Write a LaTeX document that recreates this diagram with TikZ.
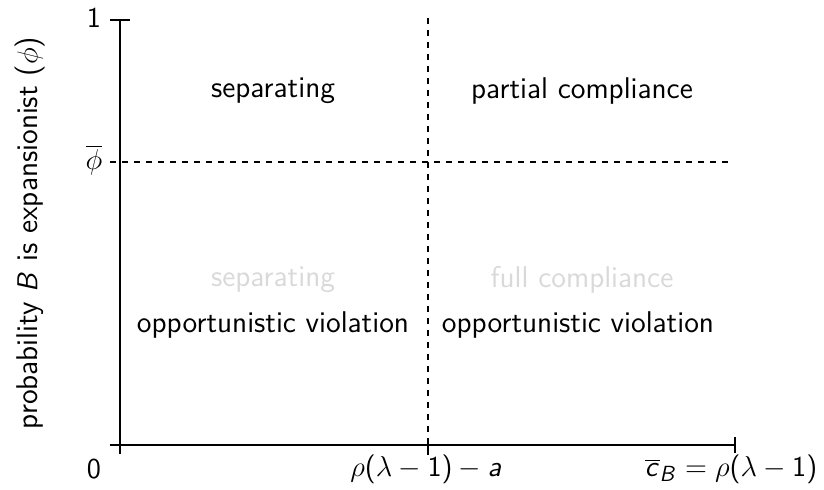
\documentclass[tikz,border=0pt]{standalone}
\renewcommand{\familydefault}{\sfdefault}
% sans serif letters and digits in math
\DeclareSymbolFont{sfup}{OT1}{cmss}{m}{n}
\DeclareSymbolFont{sfit}{OT1}{cmss}{m}{sl}
\DeclareMathSymbol{0}{\mathalpha}{sfup}{`0}
\DeclareMathSymbol{1}{\mathalpha}{sfup}{`1}
\DeclareMathSymbol{(}{\mathopen}{sfup}{`(}
\DeclareMathSymbol{)}{\mathclose}{sfup}{`)}
\DeclareMathSymbol{=}{\mathrel}{sfup}{`=}
\DeclareMathSymbol{a}{\mathalpha}{sfit}{`a}
\DeclareMathSymbol{c}{\mathalpha}{sfit}{`c}
\DeclareMathSymbol{B}{\mathalpha}{sfit}{`B}
\begin{document}
\begin{tikzpicture}[x=0.5pt,y=-0.5pt,
        every node/.style={font=\fontsize{15}{18}\selectfont\sffamily},
        faded/.style={text=black!15}]
    \useasboundingbox (0,0) rectangle (824,489);
    % axes
    \draw[-, line width=1.4pt] (120,20) -- (120,454);
    \draw[-, line width=1.4pt] (110,445) -- (735,445);
    \draw[-, line width=1.4pt] (110,20) -- (130,20);
    \draw[-, line width=1.4pt] (428,445) -- (428,455);
    \draw[-, line width=1.4pt] (735,437) -- (735,453);
    % thresholds
    \draw[dashed, line width=1pt] (110,162) -- (730,162);
    \draw[dashed, line width=1pt] (428,18) -- (428,445);
    % tick labels
    \node (one) at (94,18) {$1$};
    \node (phibar) at (94,160) {$\overline{\phi}$};
    \node (zero) at (94,469) {$0$};
    \node (cut) at (426,469) {$\rho(\lambda-1)-a$};
    \node (cbar) at (731,469) {$\overline{c}_B=\rho(\lambda-1)$};
    \node[rotate=90] (ylab) at (30,233) {probability $B$ is expansionist ($\phi$)};
    % regions
    \node (sepTop) at (273,91) {separating};
    \node (partial) at (582,91) {partial compliance};
    \node[faded] (sepLow) at (273,280) {separating};
    \node[faded] (full) at (582,280) {full compliance};
    \node (oppLeft) at (273,325) {opportunistic violation};
    \node (oppRight) at (578,325) {opportunistic violation};
\end{tikzpicture}
\end{document}
